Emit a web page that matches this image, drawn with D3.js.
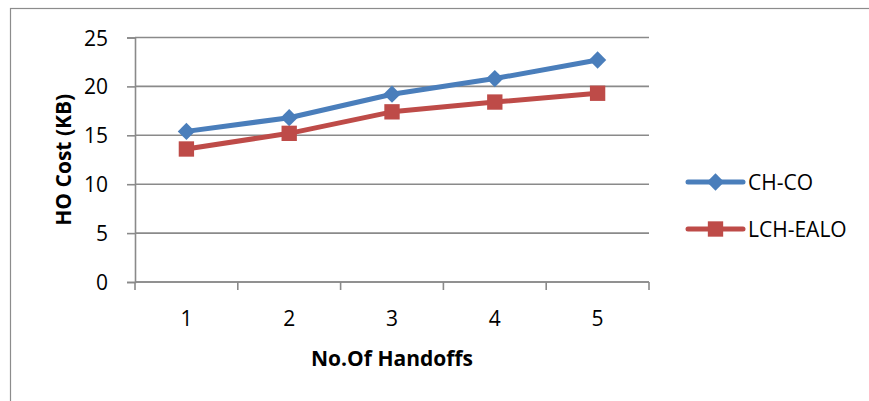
<!DOCTYPE html>
<html>
<head>
<meta charset="utf-8">
<script src="https://cdn.jsdelivr.net/npm/d3@7"></script>
<style>
  html, body { margin: 0; padding: 0; background: #fff; }
  svg { display: block; }
  text { font-family: "Open Sans", "Noto Sans", sans-serif; fill: #000; }
</style>
</head>
<body>
<svg id="chart" width="869" height="401"></svg>
<script>
// Handover cost per number of handoffs
const handoffs = ["1", "2", "3", "4", "5"];
const chcoCost = [15.4, 16.8, 19.2, 20.8, 22.7];
const lchEaloCost = [13.6, 15.2, 17.4, 18.4, 19.3];
const yTicks = [0, 5, 10, 15, 20, 25];
const seriesNames = ["CH-CO", "LCH-EALO"];

const svg = d3.select("#chart");
const W = 869, H = 401;
const plot = { left: 135, right: 649, top: 37.5, bottom: 282 };

// Chart frame
svg.append("rect")
  .attr("x", 10.5).attr("y", 8.5)
  .attr("width", W).attr("height", H)
  .attr("fill", "none").attr("stroke", "#8c8c8c").attr("stroke-width", 1.2);

const x = d3.scaleBand().domain(handoffs).range([plot.left, plot.right]);
const y = d3.scaleLinear().domain([0, 25]).range([plot.bottom, plot.top]);

const gridColor = "#8a8a8a";

// Horizontal gridlines
svg.append("g")
  .selectAll("line")
  .data(yTicks)
  .join("line")
  .attr("x1", plot.left).attr("x2", plot.right)
  .attr("y1", d => y(d)).attr("y2", d => y(d))
  .attr("stroke", gridColor).attr("stroke-width", 1.6);

// Y axis
const yAxis = svg.append("g")
  .attr("transform", `translate(${plot.left},0)`)
  .call(d3.axisLeft(y).tickValues(yTicks).tickSize(8).tickPadding(19));
yAxis.select(".domain").attr("stroke", gridColor).attr("stroke-width", 1.6);
yAxis.selectAll(".tick line").attr("stroke", gridColor).attr("stroke-width", 1.6);
yAxis.selectAll(".tick text")
  .style("font-family", "'Open Sans', sans-serif")
  .style("font-size", "21px").attr("dy", "0.36em");

// X axis: ticks at category boundaries
const xAxisG = svg.append("g").attr("transform", `translate(0,${plot.bottom})`);
const bounds = handoffs.map(h => x(h)).concat([plot.right]);
xAxisG.append("line")
  .attr("x1", plot.left).attr("x2", plot.right)
  .attr("stroke", gridColor).attr("stroke-width", 1.6);
xAxisG.selectAll("line.tk")
  .data(bounds)
  .join("line").attr("class", "tk")
  .attr("x1", d => d).attr("x2", d => d)
  .attr("y1", 0).attr("y2", 8)
  .attr("stroke", gridColor).attr("stroke-width", 1.6);
xAxisG.selectAll("text")
  .data(handoffs)
  .join("text")
  .attr("x", d => x(d) + x.bandwidth() / 2)
  .attr("y", 44)
  .attr("text-anchor", "middle")
  .style("font-size", "21px")
  .text(d => d);

// Axis titles
svg.append("text")
  .attr("x", (plot.left + plot.right) / 2)
  .attr("y", 366)
  .attr("text-anchor", "middle")
  .style("font-size", "21px").style("font-weight", "bold")
  .text("No.Of Handoffs");

svg.append("text")
  .attr("transform", `translate(71,${(plot.top + plot.bottom) / 2}) rotate(-90)`)
  .attr("text-anchor", "middle")
  .style("font-size", "21px").style("font-weight", "bold")
  .text("HO Cost (KB)");

// Series
const series = [
  { name: seriesNames[0], values: chcoCost, color: "#4a7ebb", marker: d3.symbolDiamond2, size: 190 },
  { name: seriesNames[1], values: lchEaloCost, color: "#be4b48", marker: d3.symbolSquare2, size: 300 }
];

const cx = i => x(handoffs[i]) + x.bandwidth() / 2;
const line = d3.line().x((d, i) => cx(i)).y(d => y(d));

series.forEach(s => {
  svg.append("path")
    .datum(s.values)
    .attr("d", line)
    .attr("fill", "none")
    .attr("stroke", s.color)
    .attr("stroke-width", 5)
    .attr("stroke-linejoin", "round");
  svg.append("g")
    .selectAll("path")
    .data(s.values)
    .join("path")
    .attr("transform", (d, i) => `translate(${cx(i)},${y(d)})`)
    .attr("d", d3.symbol().type(s.marker).size(s.size))
    .attr("fill", s.color);
});

// Legend
const legend = svg.append("g").attr("transform", "translate(688,182)");
series.forEach((s, i) => {
  const g = legend.append("g").attr("transform", `translate(0,${i * 47})`);
  g.append("line")
    .attr("x1", 0).attr("x2", 55)
    .attr("stroke", s.color).attr("stroke-width", 5)
    .attr("stroke-linecap", "round");
  g.append("path")
    .attr("transform", "translate(27.5,0)")
    .attr("d", d3.symbol().type(s.marker).size(s.size))
    .attr("fill", s.color);
  g.append("text")
    .attr("x", 60).attr("y", 0).attr("dy", "0.36em")
    .style("font-size", "21px")
    .text(s.name);
});
</script>
</body>
</html>
